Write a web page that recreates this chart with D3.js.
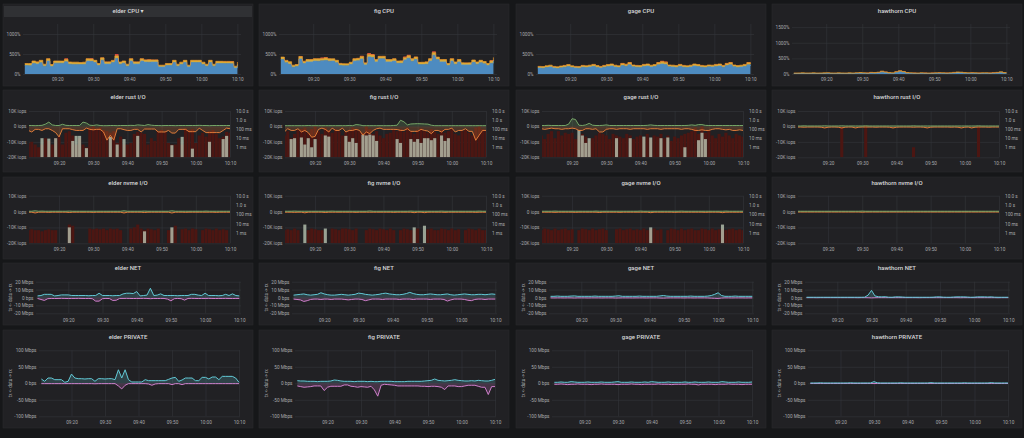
<!DOCTYPE html>
<html>
<head>
<meta charset="utf-8">
<script src="https://cdn.jsdelivr.net/npm/d3@7"></script>
<style>
body { margin: 0; background: #161719; }
svg { display: block; }
</style>
</head>
<body>
<svg id="chart" width="1024" height="438"></svg>
<script>
// one sample per minute, 09:11 .. 10:10
var firstMinute = 11;
var hosts = ["elder", "fig", "gage", "hawthorn"];

// CPU (%), stacked: user / system / other
var elderCpuUser = [212,207,265,248,282,195,322,187,270,270, 268,307,245,240,240,235,240,322,317,287, 212,345,248,248,285,390,245,270,195,322, 248,248,322,297,295,297,297,175,175,212, 212,287,195,240,287,175,287,287,287,240, 195,287,195,262,262,260,260,255,150,245];
var elderCpuSys = [50,55,60,55,60,50,60,50,55,55, 55,60,55,55,55,50,55,60,60,55, 50,60,55,55,55,65,55,55,50,60, 55,55,60,55,60,55,55,45,45,50, 50,55,50,55,55,45,55,55,55,55, 50,55,50,55,55,55,55,55,45,55];
var elderCpuOther = [1,1,3,1,3,1,5,1,3,3, 5,25,3,1,1,1,1,5,15,3, 1,10,1,1,5,45,3,3,1,5, 1,1,5,3,15,3,3,1,1,1, 1,3,1,1,3,1,3,3,3,1, 1,3,1,3,3,5,5,15,1,3];
var figCpuUser = [363,282,245,170,185,375,262,302,302,322, 320,330,340,320,322,282,215,205,205,235, 322,330,375,228,427,415,302,380,380,302, 302,322,268,268,353,395,320,363,235,235, 245,322,470,360,302,302,212,322,243,302, 228,228,228,292,245,282,255,212,270,353];
var figCpuSys = [60,58,62,50,52,63,58,60,61,60, 62,60,64,60,58,60,50,52,50,58, 60,62,64,50,66,62,58,62,63,60, 58,60,57,60,62,64,60,62,56,58, 58,60,66,62,58,60,50,60,58,60, 52,50,52,58,56,60,57,50,60,62];
var figCpuOther = [5,3,1,1,1,15,3,3,3,3, 5,20,20,5,3,3,1,1,1,1, 3,5,15,1,30,25,3,5,5,3, 3,3,1,1,20,20,5,5,1,1, 1,3,30,5,3,3,1,3,1,3, 1,1,1,3,1,3,1,1,20,20];
var gageCpuUser = [150,145,160,175,150,140,155,170,185,160, 150,145,170,160,175,190,165,150,170,185, 200,175,160,210,195,230,180,170,165,190, 200,175,185,230,250,240,180,175,165,190, 170,160,175,200,185,170,160,180,175,190, 200,170,210,230,180,165,175,190,230,200];
var gageCpuSys = [40,40,45,45,40,40,45,45,50,45, 40,40,45,45,45,50,45,40,45,50, 50,45,45,55,50,55,45,45,45,50, 50,45,50,55,60,55,45,45,45,50, 45,45,45,50,50,45,45,45,45,50, 50,45,55,55,45,45,45,50,55,50];
var gageCpuOther = [1,1,1,1,1,1,1,1,3,1, 1,1,1,1,1,3,1,1,1,3, 3,1,1,8,3,15,1,1,1,3, 3,1,3,15,20,15,1,1,1,3, 1,1,1,3,3,1,1,1,1,3, 3,1,8,15,1,1,1,3,15,8];
var hawthornCpuUser = [10,10,12,10,10,12,10,10,12,15, 10,10,12,10,10,12,10,15,20,15, 12,25,20,30,60,40,20,15,45,70, 50,20,15,12,10,15,12,10,12,15, 18,15,12,15,25,35,30,20,15,18, 15,12,15,15,12,18,25,40,20,15];
var hawthornCpuSys = [22,24,25,23,24,25,22,24,25,26, 24,23,25,24,22,25,24,26,28,25, 24,27,26,28,32,28,25,24,30,34, 30,26,25,24,23,25,24,23,24,25, 26,25,24,25,27,30,28,26,25,26, 25,24,25,25,24,26,27,30,26,25];
var hawthornCpuOther = [1,1,1,1,1,1,1,1,1,1, 1,1,1,1,1,1,1,1,2,1, 1,2,1,3,6,3,1,1,4,6, 4,1,1,1,1,1,1,1,1,1, 1,1,1,1,2,3,2,1,1,1, 1,1,1,1,1,1,2,4,1,1];
var cpuMax = [1250, 1250, 1250, 1600];
var cpuTicks = [[0, 500, 1000], [0, 500, 1000], [0, 500, 1000], [0, 500, 1000, 1500]];
var cpuTickLabels = [["0%", "500%", "1000%"], ["0%", "500%", "1000%"], ["0%", "500%", "1000%"], ["0%", "500%", "1000%", "1500%"]];

// rust I/O: read iops (K), write iops (K, negative), latency bars (ms)
var elderRustR = [0.6,0.6,0.5,0.6,0.7,1.5,2.8,1.0,0.6,0.6, 1.4,0.7,0.6,0.6,0.6,0.6,2.8,2.2,0.8,0.6, 1.0,0.6,0.5,0.5,0.6,0.6,0.5,0.6,0.6,0.6, 0.7,0.6,1.0,0.8,0.6,1.2,0.8,0.6,0.6,0.5, 0.6,0.6,0.6,0.5,0.6,0.6,0.6,0.6,0.6,0.6, 0.7,0.6,0.6,0.5,0.6,0.6,0.6,0.6,0.6,0.6];
var elderRustW = [-2.6,-3.6,-1.9,-1.9,-2.6,-1.5,-1.5,-2.6,-4.0,-6.8, -1.5,-1.5,-1.5,-2.1,-2.6,-2.6,-2.6,-1.1,-1.9,-2.2, -1.9,-1.9,-3.6,-8.9,-5.7,-8.9,-1.5,-1.5,-2.1,-2.6, -2.6,-1.9,-1.9,-3.6,-1.7,-1.7,-1.7,-1.7,-3.6,-3.6, -3.6,-2.6,-4.3,-4.3,-1.9,-1.9,-1.9,-3.4,-3.4,-3.4, -1.1,-2.6,-4.0,-4.0,-4.0,-4.0,-4.0,-2.6,-1.1,-1.5];
var elderRustA = [3,4,2,1,2,10,5,2,10,15, 2,40,60,20,2,10,2,1,150,200, 120,150,80,60,40,60,3,15,2,2, 3,30,50,40,30,2,10,5,60,80, 50,3,2,2,10,2,120,80,100,3, 20,40,15,60,80,30,10,15,50,40];
var elderRustB = [0,0,0,0,10,0,9,0,10,0, 0,0,0,5,18,18,0,0.8,0,0, 0,0,0,0,14,0,2,0,8,0, 0,0,18,0,0,0,0,0,0,0, 0,0,1.7,0,0,14,0,0,0.7,0, 0,0,0,4,0,0,0,8,18,0];
var figRustR = [0.5,0.5,0.5,0.5,0.5,0.5,0.5,0.6,0.5,0.5, 0.5,0.5,0.5,0.5,0.5,0.5,0.5,0.5,0.5,0.6, 0.5,1.2,1.0,0.5,0.5,0.5,0.5,0.5,0.5,0.5, 0.5,0.5,0.6,0.8,4.0,3.0,1.0,1.6,1.7,1.8, 1.7,1.6,1.5,0.8,0.5,0.5,0.5,0.5,0.5,0.5, 0.5,0.5,0.5,0.5,0.5,0.5,0.5,0.5,0.5,0.5];
var figRustW = [-3.6,-1.5,-2.6,-2.6,-1.5,-3.6,-2.6,-4.0,-7.0,-6.5, -1.9,-1.1,-1.9,-3.6,-1.1,-2.6,-2.6,-1.1,-3.6,-2.6, -2.6,-1.9,-2.6,-5.7,-3.6,-4.7,-2.6,-1.5,-1.1,-1.9, -1.9,-1.9,-1.9,-2.0,-2.6,-2.6,-1.5,-3.2,-3.2,-3.2, -1.9,-2.6,-3.0,-4.7,-2.6,-2.6,-3.6,-1.9,-1.9,-1.1, -3.6,-2.6,-2.6,-1.5,-3.2,-3.2,-9.0,-5.7,-2.6,-2.6];
var figRustA = [20,60,10,30,80,100,150,40,100,200, 60,30,150,80,40,100,60,20,50,80, 150,100,60,40,200,100,30,60,20,10, 30,40,80,60,100,50,150,60,30,80, 120,60,40,100,50,30,80,40,60,100, 30,20,60,80,40,20,150,200,100,60];
var figRustB = [0,0,8,10,0,12,2,10,1,8, 0,0,20,15,0,0,0,0,18,4, 10,3,0,25,20,25,20,5,0,0, 0,0,0,8,3,0,0,8,4,8, 3,10,10,6,10,0,20,5,10,0, 0,0,0,0,0,0,0,0,0,0];
var gageRustR = [0.6,0.6,0.7,0.6,0.6,0.6,0.6,0.6,1.5,5.0, 4.5,0.8,0.6,1.0,2.0,0.8,0.6,0.6,0.7,1.0, 0.6,0.6,0.6,0.6,0.6,0.6,0.6,0.6,0.6,0.6, 0.6,0.7,1.0,0.7,0.6,0.6,0.6,0.6,0.6,0.6, 0.6,0.6,0.6,0.7,1.0,0.7,1.2,1.2,0.7,0.6, 0.6,0.6,0.6,0.6,0.6,0.6,0.6,0.6,0.6,0.6];
var gageRustW = [-1.5,-1.9,-1.5,-1.1,-1.5,-1.5,-1.9,-1.5,-1.5,-1.1, -1.5,-2.6,-2.6,-1.5,-1.5,-1.9,-1.5,-3.6,-3.6,-1.9, -1.5,-1.5,-1.9,-1.5,-1.5,-1.5,-1.9,-1.5,-1.5,-1.5, -1.5,-1.9,-1.5,-1.5,-1.5,-1.9,-1.5,-1.5,-1.5,-1.5, -1.5,-1.9,-1.5,-1.5,-1.9,-2.6,-2.6,-2.2,-2.6,-2.6, -1.9,-1.5,-1.5,-1.9,-2.2,-1.9,-2.6,-2.6,-2.2,-2.6];
var gageRustA = [20,8,30,60,10,60,20,40,30,40, 8,20,30,15,5,10,20,40,30,20, 8,30,20,15,10,30,20,8,15,20, 10,30,8,20,15,30,10,20,5,15, 10,20,30,40,60,150,30,200,40,80, 20,10,30,15,40,20,10,30,20,15];
var gageRustB = [0,0,0,0,0,0,0,0,0,0, 0,80,20,3,10,0,0,0,0,0, 0,0,10,0,0,0,10,0,0,0, 15,0,12,0,0,10,0,12,0,0, 0,0,1,0,0,0,6,40,8,0, 0,0,0,0,0,0,0,0,0,0];
var hawthornRustR = [0.3,0.3,0.4,0.3,0.3,0.3,0.3,0.3,0.4,0.3, 0.3,0.3,0.3,0.4,0.3,0.3,0.3,0.3,0.3,0.3, 0.4,0.3,0.3,0.3,0.3,0.3,0.3,0.3,0.3,0.3, 0.3,0.3,0.3,0.3,0.4,0.3,0.3,0.3,0.3,0.3, 0.3,0.3,0.3,0.3,0.3,0.3,0.3,0.3,0.3,0.3, 0.3,0.3,0.3,0.4,0.3,0.3,0.3,0.3,0.3,0.3];
var hawthornRustW = [-0.4,-0.4,-0.5,-0.4,-0.4,-0.4,-0.4,-0.5,-1.0,-0.5, -0.4,-0.4,-0.5,-1.0,-0.5,-0.4,-0.4,-1.0,-0.5,-0.4, -0.4,-0.4,-0.4,-0.5,-0.4,-0.4,-0.4,-0.5,-1.0,-0.5, -0.4,-0.4,-0.4,-0.4,-0.5,-0.4,-0.4,-0.5,-1.0,-0.5, -0.4,-0.4,-0.4,-0.4,-0.4,-0.5,-0.4,-0.5,-1.0,-0.5, -0.4,-1.0,-0.5,-0.4,-0.4,-0.4,-0.5,-0.4,-0.4,-0.4];
var hawthornRustA = [0,0,0,0,0,0,0,0,0,0, 0,0,0,150,0,0,0,0,0,0, 250,0,0,0,0,0,0,0,0,0, 0,0,0,0,1,0,0,0,0,0, 0,0,0,0,0,0,0,0,0,0, 0,0,0,180,0,0,0,0,0,0];
var hawthornRustB = [];

// nvme I/O
var elderNvmeR = [0.2,0.2,0.5,0.2,0.3,0.2,0.2,0.2,0.2,0.2, 0.2,0.2,0.3,0.2,0.2,0.2,0.2,0.2,0.2,0.2, 0.2,0.2,0.2,0.2,0.2,0.2,0.2,0.2,0.5,0.2, 0.2,0.2,0.2,0.2,0.3,0.2,0.2,0.2,0.2,0.2, 0.2,0.2,0.5,0.2,0.2,0.2,0.2,0.2,0.2,0.2, 0.2,0.2,0.3,0.2,0.2,0.2,0.2,0.2,0.2,0.2];
var elderNvmeW = [-0.4,-0.4,-0.9,-0.4,-0.4,-0.4,-0.5,-0.4,-0.4,-0.4, -0.4,-0.4,-0.6,-0.4,-0.4,-0.4,-0.4,-0.4,-0.4,-0.5, -0.4,-0.4,-0.4,-0.4,-0.4,-0.4,-0.4,-0.4,-0.9,-0.4, -0.4,-0.4,-0.4,-0.4,-0.6,-0.4,-0.4,-0.4,-0.4,-0.4, -0.4,-0.4,-0.9,-0.4,-0.4,-0.4,-0.5,-0.4,-0.4,-0.4, -0.4,-0.4,-0.4,-0.4,-0.4,-0.5,-0.4,-0.4,-0.4,-0.4];
var elderNvmeA = [2,2.5,2,2,1.5,2,2.5,2,2,0, 0,0,8,6,0,0,0,0,3,2.5, 3,2.5,3,2,3,2.5,3,2,0,0, 3,4,8,3,2,3,2.5,2,3,0, 0,2,3,6,0,2.5,3,2,3,2.5, 0,2,3,2.5,2,3,2,2.5,2,0];
var elderNvmeB = [0,0,0,0,0,0,0,0,0,0, 0,0,4,0,0,0,0,0,0,0, 0,0,0,0,0,0,0,0,0,0, 0,0,0,0,1.5,0,0,0,0,0, 0,0,4,0,0,0,0,0,0,0, 0,0,0,0,0,0,0,0,0,0];
var figNvmeR = [0.2,0.2,0.2,0.3,0.2,0.2,0.2,0.2,0.2,0.2, 0.2,0.2,0.2,0.2,0.3,0.2,0.2,0.2,0.2,0.2, 0.2,0.2,0.2,0.2,0.2,0.4,0.2,0.2,0.2,0.2, 0.2,0.2,0.2,0.2,0.2,0.2,0.2,0.3,0.2,0.2, 0.2,0.2,0.2,0.2,0.2,0.2,0.3,0.2,0.2,0.2, 0.2,0.2,0.2,0.2,0.2,0.2,0.2,0.3,0.2,0.2];
var figNvmeW = [-0.4,-0.4,-0.4,-0.5,-0.4,-0.4,-0.8,-0.4,-0.4,-0.4, -0.4,-0.4,-0.6,-0.4,-0.4,-0.4,-0.4,-0.4,-0.4,-0.4, -0.4,-0.5,-0.4,-0.4,-0.4,-0.4,-0.4,-0.4,-0.4,-0.4, -0.4,-0.4,-0.5,-0.4,-0.4,-0.4,-0.4,-0.4,-0.7,-0.4, -0.4,-0.7,-0.4,-0.4,-0.4,-0.4,-0.4,-0.5,-0.4,-0.4, -0.4,-0.4,-0.4,-0.4,-0.4,-0.4,-0.5,-0.4,-0.4,-0.4];
var figNvmeA = [2,2.5,2,3,2,0,0,2,3,2.5, 2,2,0,0,3,2.5,2,3,3,2.5, 2,3,0,0,2,3,2.5,2,3,2.5, 2,3,2,0,2,3,2.5,2,2,3, 0,0,2.5,3,2,2,3,2.5,2,3, 2,2.5,0,2,3,2.5,2,3,2,2];
var figNvmeB = [0,0,0,0,0,0,8,0,0,0, 0,0,3,0,0,0,0,0,0,0, 0,0,0,0,0,0,0,0,0,0, 0,0,0,0,0,0,0,0,4,0, 0,6,0,0,0,0,0,0,0,0, 0,0,0,0,0,0,0,0,0,0];
var gageNvmeR = [0.2,0.2,0.2,0.2,0.3,0.2,0.2,0.2,0.2,0.2, 0.2,0.2,0.2,0.2,0.2,0.2,0.3,0.2,0.2,0.2, 0.2,0.2,0.2,0.2,0.2,0.2,0.2,0.2,0.2,0.3, 0.2,0.2,0.2,0.2,0.2,0.2,0.2,0.2,0.2,0.2, 0.2,0.3,0.2,0.2,0.2,0.2,0.2,0.2,0.2,0.2, 0.2,0.2,0.2,0.2,0.3,0.2,0.2,0.2,0.2,0.2];
var gageNvmeW = [-0.4,-0.4,-0.4,-0.4,-0.5,-0.4,-0.4,-0.4,-0.4,-0.4, -0.5,-0.4,-0.4,-0.4,-0.4,-0.4,-0.4,-0.6,-0.4,-0.4, -0.4,-0.4,-0.4,-0.5,-0.4,-0.4,-0.4,-0.4,-0.4,-0.4, -0.4,-0.4,-0.7,-0.4,-0.4,-0.4,-0.4,-0.4,-0.4,-0.5, -0.4,-0.4,-0.4,-0.4,-0.4,-0.4,-0.4,-0.4,-0.5,-0.4, -0.4,-0.4,-0.4,-0.7,-0.4,-0.4,-0.4,-0.4,-0.4,-0.4];
var gageNvmeA = [2,3,2.5,2,3,2,2.5,3,2,2.5, 0,2,3,2.5,2,3,2,2.5,3,2, 0,0,2.5,3,2,2.5,3,2,2.5,2, 3,2,2.5,3,2,2.5,0,2,3,2.5, 2,3,2,2.5,3,2,2,3,2.5,2, 3,2,2.5,3,2,2.5,3,2,2.5,2];
var gageNvmeB = [0,0,0,0,0,0,0,0,0,0, 0,0,0,0,0,0,0,0,0,0, 0,0,0,0,0,0,0,0,0,0, 0,0,4,0,0,0,0,0,0,0, 0,0,0,0,0,0,0,0,0,0, 0,0,0,8,0,0,0,0,0,0];
var hawthornNvmeR = [0.2,0.2,0.2,0.2,0.2,0.2,0.2,0.2,0.2,0.2, 0.2,0.2,0.2,0.2,0.2,0.2,0.2,0.2,0.2,0.3, 0.2,0.2,0.2,0.2,0.2,0.2,0.2,0.2,0.2,0.2, 0.2,0.2,0.2,0.2,0.2,0.2,0.2,0.2,0.2,0.2, 0.2,0.2,0.2,0.2,0.2,0.2,0.2,0.2,0.2,0.2, 0.2,0.2,0.2,0.2,0.2,0.2,0.2,0.2,0.2,0.2];
var hawthornNvmeW = [-0.3,-0.3,-0.3,-0.3,-0.3,-0.3,-0.3,-0.3,-0.3,-0.3, -0.3,-0.3,-0.3,-0.3,-0.3,-0.3,-0.3,-0.3,-0.3,-0.4, -0.3,-0.3,-0.3,-0.3,-0.3,-0.3,-0.3,-0.3,-0.3,-0.3, -0.3,-0.3,-0.3,-0.3,-0.3,-0.3,-0.3,-0.3,-0.3,-0.3, -0.3,-0.3,-0.3,-0.3,-0.3,-0.3,-0.3,-0.3,-0.3,-0.3, -0.3,-0.3,-0.3,-0.3,-0.3,-0.3,-0.3,-0.3,-0.3,-0.3];
var hawthornNvmeA = [];
var hawthornNvmeB = [];
var ioTicks = [-20, -10, 0, 10];
var ioTickLabels = ["-20K iops", "-10K iops", "0 iops", "10K iops"];
var latTicks = [1, 10, 100, 1000, 10000];
var latTickLabels = ["1 ms", "10 ms", "100 ms", "1.0 s", "10.0 s"];

// NET (Mbps): rx positive, tx negative
var elderNetRx = [2,2.5,4,4,4,2,2.5,3.3,3.3,3.3, 2.5,2.5,2.5,2.5,2.5,2.2,2.5,2.5,5.4,2.5, 2.5,2.5,2.2,2.5,2.5,4.5,5.4,5.4,5.0,7.5, 2.0,2.5,3.0,11.7,2.5,3.0,4.6,2.5,2.5,2.5, 2.5,2.2,2.5,2.5,2.5,4.0,4.0,3.0,2.5,5.4, 2.5,2.5,2.5,2.2,2.5,4.0,2.5,4.6,2.5,2.0];
var elderNetTx = [-1.2,-2.5,-3.7,-1.5,-1.2,-1.3,-1.2,-1.1,-1.2,-1.3, -1.2,-1.2,-1.1,-1.2,-1.3,-1.2,-1.5,-4.6,-4.6,-1.5, -1.2,-1.3,-3.7,-3.5,-1.2,-1.2,-1.1,-1.2,-1.3,-1.2, -1.2,-1.1,-1.2,-1.5,-1.2,-1.3,-1.2,-1.2,-2.0,-4.2, -1.5,-1.2,-1.5,-3.3,-1.2,-1.1,-1.2,-1.3,-1.2,-1.2, -1.1,-1.2,-1.3,-1.2,-1.2,-1.1,-1.2,-1.3,-1.2,-1.2];
var figNetRx = [3,3.5,4,4.5,3.5,3,3.5,4,6,4.5, 3.5,3,3,3.5,4,3.5,3,3.5,4,5.5, 5,4,3.5,3,3.5,4,5,5.5,4.5,4, 3.5,3.5,4,5,6.5,5,4,3.5,3.5,4, 4.5,4,3.5,3.5,4,4.5,3.5,3,3.5,4, 4.5,4,3.5,3.5,4,4,3.5,4,4.5,4];
var figNetTx = [-2,-2.5,-3,-5,-4,-2.5,-2,-2,-2.5,-2, -2,-2.5,-2,-2,-2,-2.5,-3,-2.5,-2,-2, -2.5,-4,-3,-2,-2,-2,-2.5,-2,-2,-2, -2,-2.5,-2,-2,-2,-2.5,-2,-2,-2,-2, -2.5,-2,-2,-2,-2.5,-4.5,-3,-2,-2,-2, -2.5,-3.5,-4,-2.5,-2,-2,-2.5,-2,-2,-2];
var gageNetRx = [1.5,1.5,1.8,1.5,1.5,1.5,1.8,2,1.5,1.5, 1.5,1.5,1.5,1.8,1.5,1.5,1.5,1.5,1.5,1.8, 2.2,1.5,1.5,1.5,1.5,1.5,1.8,1.5,1.5,1.5, 1.5,1.5,2.0,2.5,1.8,1.5,1.5,1.5,1.5,1.5, 1.5,1.8,1.5,1.5,1.5,1.5,1.8,2.5,4.0,6.0, 2.5,1.5,1.5,1.5,1.8,1.5,1.5,1.5,1.5,1.5];
var gageNetTx = [-0.5,-0.6,-0.5,-0.5,-0.6,-0.5,-0.5,-0.7,-0.5,-0.5, -0.5,-0.6,-0.5,-0.5,-0.5,-0.6,-0.5,-0.5,-0.5,-0.7, -0.6,-0.5,-0.5,-0.5,-0.6,-0.5,-0.5,-0.5,-0.6,-0.5, -0.5,-0.5,-0.7,-0.8,-0.6,-0.5,-0.5,-0.5,-0.5,-0.6, -0.5,-0.5,-0.6,-0.5,-0.5,-0.5,-0.6,-0.8,-1.0,-1.2, -0.7,-0.5,-0.5,-0.6,-0.5,-0.5,-0.5,-0.6,-0.5,-0.5];
var hawthornNetRx = [0.3,0.3,0.3,0.3,0.3,0.3,0.3,0.3,0.3,0.3, 0.3,0.3,0.3,0.3,0.3,0.3,0.3,0.4,3,9, 2,1,0.8,1,0.4,0.3,0.8,0.8,0.6,0.3, 0.3,0.3,0.3,0.3,0.3,0.3,0.3,0.4,0.8,0.8, 0.4,0.3,0.3,0.6,0.8,0.8,0.8,0.6,0.3,0.4, 0.8,0.8,0.8,0.6,0.8,0.4,0.3,0.3,0.3,0.3];
var hawthornNetTx = [-0.2,-0.2,-0.2,-0.3,-0.2,-0.2,-0.2,-0.2,-0.2,-0.2, -0.2,-0.2,-0.2,-0.2,-0.2,-0.3,-0.2,-0.2,-0.3,-0.5, -0.3,-0.2,-0.2,-0.2,-0.2,-0.2,-0.2,-0.2,-0.2,-0.2, -0.2,-0.2,-0.2,-0.3,-0.2,-0.2,-0.2,-0.2,-0.2,-0.2, -0.2,-0.2,-0.2,-0.2,-0.2,-0.3,-0.2,-0.2,-0.2,-0.2, -0.2,-0.2,-0.2,-0.2,-0.2,-0.2,-0.3,-0.2,-0.2,-0.2];
var netTicks = [-20, -10, 0, 10, 20];
var netTickLabels = ["-20 Mbps", "-10 Mbps", "0 bps", "10 Mbps", "20 Mbps"];

// PRIVATE (Mbps)
var elderPrivRx = [13,6,16,16,11,11,11,3,6,28, 16,14,14,13,14,14,6,14,14,13, 14,14,11,41,16,41,11,4,4,4, 4,11,8,8,8,8,8,8,12,16, 18,6,10,16,16,16,8,8,18,18, 13,19,19,11,21,21,21,21,16,3];
var elderPrivTx = [-1,-1,-1,-1,-1,-1,-1,-1,-1,-1, -1,-1,-1,-1,-1,-1,-1.5,-1,-1,-1, -1,-1,-1,-8,-17,-6,-1,-1,-1,-1, -1,-1,-2,-6,-2,-1,-1,-1,-1,-4, -1,-1,-4,-1,-1,-1,-1,-1,-1,-1, -1,-1,-1,-1,-1,-1,-1,-1,-1,-1];
var figPrivRx = [8,7,7,6,6,6,5,6,6,6, 7,10,9,7,6,6,6,5,6,6, 6,5,6,5,5,6,6,6,6,5, 5,5,5,6,6,6,6,6,7,8, 9,13,9,8,7,8,9,11,9,8, 7,7,8,7,9,8,7,7,9,12];
var figPrivTx = [-8,-10,-12,-11,-10,-8,-8,-8,-22,-12, -9,-9,-9,-9,-5,-5,-9,-10,-12,-10, -11,-12,-9,-20,-39,-6,-3,-4,-5,-6, -8,-8,-8,-8,-8,-8,-8,-9,-9,-10, -9,-9,-10,-12,-19,-8,-8,-8,-10,-10, -8,-6,-6,-6,-9,-12,-12,-34,-10,-10];
var gagePrivRx = [3,3,4,3,3,5,4,3,3,3, 4,3,3,3,4,3,3,3,4,5, 3,3,3,4,3,3,3,4,3,5, 4,3,3,3,4,3,3,3,3,4, 3,3,4,3,3,3,4,3,3,3, 5,4,3,3,3,4,3,3,3,4];
var gagePrivTx = [-3,-3,-2,-3,-4,-3,-3,-2,-3,-3, -3,-4,-3,-3,-2,-3,-3,-3,-3,-4, -3,-3,-3,-2,-3,-3,-4,-3,-3,-3, -3,-2,-3,-3,-3,-4,-3,-3,-3,-3, -2,-3,-3,-5,-3,-3,-3,-3,-4,-3, -3,-3,-2,-3,-3,-3,-4,-3,-3,-3];
var hawthornPrivRx = [1,1,1,1.5,1,1,1,1,1,1, 1,1,1.5,1,1,1,1,1,1,5, 1.5,1,1,1,1,1,1,1.5,1,1, 1,1,1,1,1,1,2,1,1,1, 1,1,1,1,1,1,1.5,1,1,1, 1,1,1,1,2,1,1,1,1,1];
var hawthornPrivTx = [-0.5,-0.5,-0.5,-0.6,-0.5,-0.5,-0.5,-0.5,-0.5,-0.5, -0.5,-0.5,-0.5,-0.5,-0.6,-0.5,-0.5,-0.5,-0.5,-0.8, -0.5,-0.5,-0.5,-0.5,-0.5,-0.5,-0.5,-0.5,-0.5,-0.5, -0.5,-0.6,-0.5,-0.5,-0.5,-0.5,-0.5,-0.5,-0.5,-0.5, -0.5,-0.5,-0.5,-0.5,-0.5,-0.6,-0.5,-0.5,-0.5,-0.5, -0.5,-0.5,-0.5,-0.5,-0.5,-0.5,-0.5,-0.6,-0.5,-0.5];
var privTicks = [-100, -50, 0, 50, 100];
var privTickLabels = ["-100 Mbps", "-50 Mbps", "0 bps", "50 Mbps", "100 Mbps"];

var cpuUser = [elderCpuUser, figCpuUser, gageCpuUser, hawthornCpuUser];
var cpuSys = [elderCpuSys, figCpuSys, gageCpuSys, hawthornCpuSys];
var cpuOther = [elderCpuOther, figCpuOther, gageCpuOther, hawthornCpuOther];
var rustR = [elderRustR, figRustR, gageRustR, hawthornRustR];
var rustW = [elderRustW, figRustW, gageRustW, hawthornRustW];
var rustA = [elderRustA, figRustA, gageRustA, hawthornRustA];
var rustB = [elderRustB, figRustB, gageRustB, hawthornRustB];
var nvmeR = [elderNvmeR, figNvmeR, gageNvmeR, hawthornNvmeR];
var nvmeW = [elderNvmeW, figNvmeW, gageNvmeW, hawthornNvmeW];
var nvmeA = [elderNvmeA, figNvmeA, gageNvmeA, hawthornNvmeA];
var nvmeB = [elderNvmeB, figNvmeB, gageNvmeB, hawthornNvmeB];
var netRx = [elderNetRx, figNetRx, gageNetRx, hawthornNetRx];
var netTx = [elderNetTx, figNetTx, gageNetTx, hawthornNetTx];
var privRx = [elderPrivRx, figPrivRx, gagePrivRx, hawthornPrivRx];
var privTx = [elderPrivTx, figPrivTx, gagePrivTx, hawthornPrivTx];

var svg = d3.select("#chart");
var font = "Roboto, 'DejaVu Sans', sans-serif";
var panelW = 250;
var colX = [3, 259, 516, 772];
var gridColor = "#34353a";
var tickColor = "#a8aaad";
var tickFont = 4.7;
var fmt = d3.timeFormat("%H:%M");
var every10 = d3.timeMinute.every(10);
var T0 = new Date(2018, 0, 1, 9, 0, 0).getTime();
var clipCount = 0;

function tm(m) { return new Date(T0 + m * 60000); }
function tAt(i) { return tm(firstMinute + i); }

svg.append("rect").attr("width", 1024).attr("height", 438).attr("fill", "#161719");

function panel(col, row, title, hover) {
    var g = svg.append("g").attr("transform", "translate(" + colX[col] + "," + row.y + ")");
    g.append("rect")
        .attr("width", panelW)
        .attr("height", row.h)
        .attr("fill", "#212124")
        .attr("stroke", "#29292c")
        .attr("stroke-width", 0.6);
    if (hover) {
        g.append("rect")
            .attr("x", 1).attr("y", 2)
            .attr("width", panelW - 2).attr("height", 11)
            .attr("fill", "#303134");
    }
    g.append("text")
        .attr("x", panelW / 2)
        .attr("y", row.titleY)
        .attr("dy", "0.35em")
        .attr("text-anchor", "middle")
        .attr("fill", "#d8d9da")
        .attr("font-family", font)
        .attr("font-size", 6)
        .attr("font-weight", 500)
        .text(title + (hover ? " \u25BE" : ""));
    return g;
}

function clipGroup(g, x, y, w, h) {
    var id = "clip" + (clipCount++);
    g.append("clipPath").attr("id", id)
        .append("rect").attr("x", x).attr("y", y).attr("width", w).attr("height", h);
    return g.append("g").attr("clip-path", "url(#" + id + ")");
}

function styleAxis(ax) {
    ax.select(".domain").remove();
    ax.attr("font-size", tickFont).attr("font-family", font);
    ax.selectAll("line").attr("stroke", gridColor).attr("stroke-width", 0.6);
    ax.selectAll("text").attr("fill", tickColor);
}

function timeAxes(g, x, yTop, yBot, ly) {
    var grid = g.append("g")
        .attr("transform", "translate(0," + yBot + ")")
        .call(d3.axisBottom(x).ticks(every10).tickSize(-(yBot - yTop)).tickFormat(""));
    styleAxis(grid);
    var lab = g.append("g")
        .attr("transform", "translate(0," + ly + ")")
        .call(d3.axisBottom(x).ticks(every10).tickSize(0).tickPadding(0).tickFormat(fmt));
    styleAxis(lab);
}

function valueAxis(g, y, vals, labels, x0, x1) {
    var ax = g.append("g")
        .attr("transform", "translate(" + x0 + ",0)")
        .call(d3.axisLeft(y).tickValues(vals).tickSize(-(x1 - x0)).tickPadding(2.5)
            .tickFormat(function (d, i) { return labels[i]; }));
    styleAxis(ax);
}

function drawCpu(g, k) {
    var x0 = 20, x1 = 238, yTop = 20, yBot = 70;
    var x = d3.scaleTime().domain([tm(10.5), tm(71)]).range([x0, x1]);
    var y = d3.scaleLinear().domain([0, cpuMax[k]]).range([yBot, yTop]);
    timeAxes(g, x, yTop, yBot, 73.3);
    valueAxis(g, y, cpuTicks[k], cpuTickLabels[k], x0, x1);

    var rows = cpuUser[k].map(function (u, i) {
        return { t: tAt(i), user: u, sys: cpuSys[k][i], other: cpuOther[k][i] };
    });
    var series = d3.stack().keys(["user", "sys", "other"])(rows);
    var colors = ["#5195ce", "#eab839", "#e24d42"];
    var lines = ["#5195ce", "#ef9a2c"];
    var area = d3.area().curve(d3.curveStepAfter)
        .x(function (d) { return x(d.data.t); })
        .y0(function (d) { return y(d[0]); })
        .y1(function (d) { return y(d[1]); });
    var line = d3.line().curve(d3.curveStepAfter)
        .x(function (d) { return x(d.data.t); })
        .y(function (d) { return y(d[1]); });
    var pg = clipGroup(g, x0, yTop - 2, x1 - x0, yBot - yTop + 2);
    pg.selectAll(null).data(series).enter().append("path")
        .attr("d", area)
        .attr("fill", function (d, i) { return colors[i]; })
        .attr("fill-opacity", 0.92);
    // outline only the two main layers; the red layer has no line
    pg.selectAll(null).data(series.slice(0, 2)).enter().append("path")
        .attr("d", line)
        .attr("fill", "none")
        .attr("stroke", function (d, i) { return lines[i]; })
        .attr("stroke-width", 0.7);
}

function drawIo(g, rd, wr, latA, latB, yTop, yBot, ly) {
    var x0 = 26, x1 = 227;
    var x = d3.scaleTime().domain([tm(11.2), tm(70)]).range([x0, x1]);
    var y = d3.scaleLinear().domain([-20, 10]).range([yBot, yTop]);
    var yR = d3.scaleLog().domain([0.078, 10000]).range([yBot, yTop]);
    timeAxes(g, x, yTop, yBot, ly);
    valueAxis(g, y, ioTicks, ioTickLabels, x0, x1);
    var rax = g.append("g")
        .attr("transform", "translate(" + x1 + ",0)")
        .call(d3.axisRight(yR).tickValues(latTicks).tickSize(0).tickPadding(6)
            .tickFormat(function (d, i) { return latTickLabels[i]; }));
    styleAxis(rax);

    var bw = (x(tm(1)) - x(tm(0))) * 0.9;
    var pg = clipGroup(g, x0, yTop, x1 - x0, yBot - yTop);
    function bars(vals, color, op) {
        var pts = vals.map(function (v, i) { return { t: tAt(i), v: v }; })
            .filter(function (d) { return d.v > 0; });
        pg.selectAll(null).data(pts).enter().append("rect")
            .attr("x", function (d) { return x(d.t) - bw / 2; })
            .attr("y", function (d) { return yR(d.v); })
            .attr("width", bw)
            .attr("height", function (d) { return yBot - yR(d.v); })
            .attr("fill", color)
            .attr("fill-opacity", op);
    }
    bars(latA, "#4c1612", 1);
    bars(latB, "#c0ceb9", 0.75);

    function series(vals, color) {
        var pts = vals.map(function (v, i) { return { t: tAt(i), v: v }; });
        var area = d3.area()
            .x(function (d) { return x(d.t); })
            .y0(y(0))
            .y1(function (d) { return y(d.v); });
        var line = d3.line()
            .x(function (d) { return x(d.t); })
            .y(function (d) { return y(d.v); });
        pg.append("path").datum(pts).attr("d", area).attr("fill", color).attr("fill-opacity", 0.22);
        pg.append("path").datum(pts).attr("d", line).attr("fill", "none")
            .attr("stroke", color).attr("stroke-width", 0.9);
    }
    series(wr, "#ef843c");
    series(rd, "#7eb26d");
}

function drawNet(g, rx, tx, cfg) {
    var x = d3.scaleTime().domain(cfg.time).range([cfg.x0, cfg.x1]);
    var y = d3.scaleLinear().domain(cfg.range).range([cfg.yBot, cfg.yTop]);
    timeAxes(g, x, cfg.yTop, cfg.yBot, cfg.ly);
    valueAxis(g, y, cfg.ticks, cfg.labels, cfg.x0, cfg.x1);
    g.append("text")
        .attr("transform", "translate(7," + (cfg.yTop + cfg.yBot) / 2 + ") rotate(-90)")
        .attr("text-anchor", "middle")
        .attr("dy", "0.35em")
        .attr("fill", tickColor)
        .attr("font-family", font)
        .attr("font-size", 4.5)
        .text("tx <- data -> rx");

    var pg = clipGroup(g, cfg.x0, cfg.yTop, cfg.x1 - cfg.x0, cfg.yBot - cfg.yTop);
    function series(vals, color) {
        var pts = vals.map(function (v, i) { return { t: tAt(i), v: v }; });
        var area = d3.area()
            .x(function (d) { return x(d.t); })
            .y0(y(0))
            .y1(function (d) { return y(d.v); });
        var line = d3.line()
            .x(function (d) { return x(d.t); })
            .y(function (d) { return y(d.v); });
        pg.append("path").datum(pts).attr("d", area).attr("fill", color).attr("fill-opacity", 0.2);
        pg.append("path").datum(pts).attr("d", line).attr("fill", "none")
            .attr("stroke", color).attr("stroke-width", 1);
    }
    series(tx, "#d07fcc");
    series(rx, "#62c9d6");
}

var rowCpu = { y: 4, h: 82, titleY: 7 };
var rowRust = { y: 90, h: 82, titleY: 7 };
var rowNvme = { y: 177, h: 82, titleY: 6 };
var rowNet = { y: 263, h: 62, titleY: 5 };
var rowPriv = { y: 330, h: 98, titleY: 7 };

var netCfg = {
    x0: 33, x1: 238, yTop: 18.7, yBot: 50.3, ly: 55.3,
    time: [tm(10.55), tm(70.5)], range: [-20, 20],
    ticks: netTicks, labels: netTickLabels
};
var privCfg = {
    x0: 36, x1: 237, yTop: 20.3, yBot: 86.3, ly: 90.3,
    time: [tm(10.3), tm(70.3)], range: [-100, 100],
    ticks: privTicks, labels: privTickLabels
};

hosts.forEach(function (h, k) {
    drawCpu(panel(k, rowCpu, h + " CPU", k === 0), k);
    drawIo(panel(k, rowRust, h + " rust I/O", false), rustR[k], rustW[k], rustA[k], rustB[k], 21, 67.3, 71.3);
    drawIo(panel(k, rowNvme, h + " nvme I/O", false), nvmeR[k], nvmeW[k], nvmeA[k], nvmeB[k], 18.7, 66.3, 70.3);
    drawNet(panel(k, rowNet, h + " NET", false), netRx[k], netTx[k], netCfg);
    drawNet(panel(k, rowPriv, h + " PRIVATE", false), privRx[k], privTx[k], privCfg);
});
</script>
</body>
</html>
